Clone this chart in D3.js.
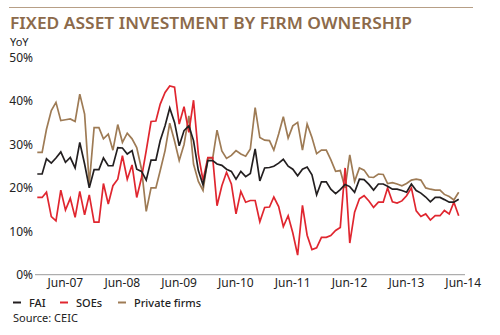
<!DOCTYPE html>
<html>
<head>
<meta charset="utf-8">
<script src="https://cdn.jsdelivr.net/npm/d3@7"></script>
<style>
  html, body { margin: 0; padding: 0; background: #fff; }
  svg { display: block; }
  text { font-family: "Noto Sans", "Open Sans", sans-serif; }
</style>
</head>
<body>
<svg id="chart" width="500" height="335"></svg>
<script>
// ---- Data (monthly YoY %, Jan-2007 .. Jun-2014) ----
const startMonth = new Date(2007, 0, 1);
const endMonth = new Date(2014, 5, 1);
const months = d3.timeMonth.range(startMonth, d3.timeMonth.offset(endMonth, 1));

const seriesNames = ["FAI", "SOEs", "Private firms"];
const seriesColors = ["#231f20", "#e0262f", "#9e7b55"];

const fai = [
  23.2, 23.2, 26.7, 25.7, 26.9, 28.3, 25.9, 27.0, 24.6, 30.5, 25.5, 20.0,
  24.2, 24.2, 26.9, 25.1, 25.1, 29.3, 29.2, 27.8, 28.6, 24.3, 23.8, 21.8,
  26.4, 26.4, 30.9, 34.3, 38.4, 35.1, 29.7, 33.2, 34.3, 30.9, 24.0, 20.7,
  26.3, 26.3, 25.5, 25.2, 24.3, 23.8, 22.0, 23.8, 22.6, 23.3, 29.0, 21.6,
  24.6, 24.7, 25.0, 25.7, 26.6, 25.0, 24.3, 22.8, 24.3, 24.8, 23.0, 18.4,
  21.4, 21.4, 19.7, 18.7, 19.6, 20.8, 20.3, 19.0, 22.0, 21.9, 20.8, 19.5,
  20.9, 20.9, 20.4, 19.7, 19.7, 19.4, 19.0, 20.9, 19.4, 18.8, 17.9, 16.8,
  17.8, 17.8, 17.3, 16.7, 16.7, 17.4
];
const soes = [
  17.8, 17.8, 19.0, 13.4, 12.4, 19.5, 14.9, 17.6, 13.2, 19.2, 13.8, 18.4,
  12.1, 12.1, 21.0, 16.3, 20.5, 22.0, 27.4, 22.0, 25.3, 17.8, 22.4, 28.6,
  35.3, 35.4, 39.3, 42.0, 43.5, 43.2, 34.7, 38.7, 32.8, 40.2, 27.8, 21.7,
  27.0, 27.0, 15.9, 20.5, 23.6, 20.9, 14.0, 19.2, 16.7, 17.1, 17.1, 12.2,
  15.5, 15.6, 17.9, 15.7, 11.1, 13.6, 9.6, 4.5, 16.0, 9.1, 5.8, 6.2,
  8.6, 8.6, 9.0, 10.2, 10.9, 24.6, 7.3, 14.4, 17.5, 18.2, 17.0, 15.5,
  16.7, 16.7, 20.0, 16.8, 16.5, 17.0, 18.2, 20.0, 14.7, 13.4, 14.0, 12.6,
  13.6, 13.6, 14.8, 14.0, 16.7, 13.6
];
const privateFirms = [
  28.2, 28.2, 33.5, 37.8, 39.7, 35.5, 35.7, 35.9, 35.3, 41.6, 37.0, 20.9,
  33.9, 33.9, 31.3, 32.4, 28.7, 34.6, 30.5, 32.6, 31.3, 29.3, 24.3, 14.6,
  20.0, 20.0, 24.0, 28.6, 34.9, 30.8, 26.3, 30.0, 36.6, 25.5, 21.5, 19.4,
  26.8, 26.8, 33.3, 28.5, 26.8, 27.5, 28.6, 27.8, 27.3, 29.0, 38.5, 31.6,
  31.0, 30.9, 28.7, 32.4, 36.4, 31.5, 34.3, 35.1, 28.7, 34.7, 31.6, 27.9,
  28.7, 28.7, 26.5, 23.8, 24.0, 20.0, 27.6, 21.5, 24.6, 24.1, 22.5, 22.4,
  23.2, 23.1, 21.0, 21.2, 20.9, 20.5, 21.0, 21.8, 22.0, 21.8, 20.0, 19.7,
  19.5, 19.5, 18.5, 18.0, 17.2, 19.0
];
const seriesValues = [fai, soes, privateFirms];

const yTicks = [0, 10, 20, 30, 40, 50];
const xTickDates = [2007, 2008, 2009, 2010, 2011, 2012, 2013, 2014].map(y => new Date(y, 5, 1));

const titleText = "FIXED ASSET INVESTMENT BY FIRM OWNERSHIP";
const unitText = "YoY";
const sourceText = "Source: CEIC";

// ---- Drawing ----
const svg = d3.select("#chart");

const x = d3.scaleTime().domain([startMonth, endMonth]).range([37.3, 458.7]);
const y = d3.scaleLinear().domain([0, 50]).range([274.7, 57.7]);

// top rule
svg.append("line")
  .attr("x1", 9).attr("x2", 473).attr("y1", 7.5).attr("y2", 7.5)
  .attr("stroke", "#b79f86").attr("stroke-width", 1.2);

// title
svg.append("text")
  .attr("x", 10).attr("y", 29)
  .attr("fill", "#8c6a4a")
  .attr("font-size", 16.5)
  .attr("font-weight", 600)
  .attr("textLength", 402)
  .attr("lengthAdjust", "spacingAndGlyphs")
  .text(titleText);

// unit
svg.append("text")
  .attr("x", 10).attr("y", 46)
  .attr("fill", "#222")
  .attr("font-size", 11)
  .text(unitText);

// y axis labels (no line)
const yAxis = d3.axisLeft(y).tickValues(yTicks).tickFormat(d => d + "%").tickSize(0).tickPadding(0);
const gy = svg.append("g").attr("transform", "translate(33,0)").call(yAxis);
gy.select(".domain").remove();
gy.selectAll("text")
  .attr("font-size", 12)
  .attr("fill", "#222")
  .attr("font-family", "'Noto Sans', sans-serif");

// x axis baseline + labels
svg.append("line")
  .attr("x1", 35).attr("x2", 465)
  .attr("y1", y(0)).attr("y2", y(0))
  .attr("stroke", "#9a9a9a").attr("stroke-width", 1);

const xAxis = d3.axisBottom(x).tickValues(xTickDates).tickFormat(d3.timeFormat("%b-%y")).tickSize(0).tickPadding(0);
const gx = svg.append("g").attr("transform", `translate(0,${y(0)})`).call(xAxis);
gx.select(".domain").remove();
gx.selectAll("text")
  .attr("font-size", 12)
  .attr("fill", "#222")
  .attr("dx", 4)
  .attr("dy", "1.05em")
  .attr("font-family", "'Noto Sans', sans-serif");

// lines
const line = d3.line()
  .x((d, i) => x(months[i]))
  .y(d => y(d));

// draw private first, then SOEs, then FAI on top? reference shows red over brown, black on top
const drawOrder = [2, 1, 0];
drawOrder.forEach(k => {
  svg.append("path")
    .datum(seriesValues[k])
    .attr("fill", "none")
    .attr("stroke", seriesColors[k])
    .attr("stroke-width", 1.7)
    .attr("stroke-linejoin", "miter")
    .attr("d", line);
});

// legend
const legendX = [13, 60, 118];
const legend = svg.append("g");
seriesNames.forEach((name, k) => {
  legend.append("line")
    .attr("x1", legendX[k]).attr("x2", legendX[k] + 8)
    .attr("y1", 302.5).attr("y2", 302.5)
    .attr("stroke", seriesColors[k]).attr("stroke-width", 2);
  legend.append("text")
    .attr("x", legendX[k] + 16).attr("y", 306.5)
    .attr("font-size", 11)
    .attr("font-weight", 500)
    .attr("fill", "#222")
    .text(name);
});

// source
svg.append("text")
  .attr("x", 13).attr("y", 322)
  .attr("font-size", 11)
  .attr("fill", "#222")
  .text(sourceText);
</script>
</body>
</html>
